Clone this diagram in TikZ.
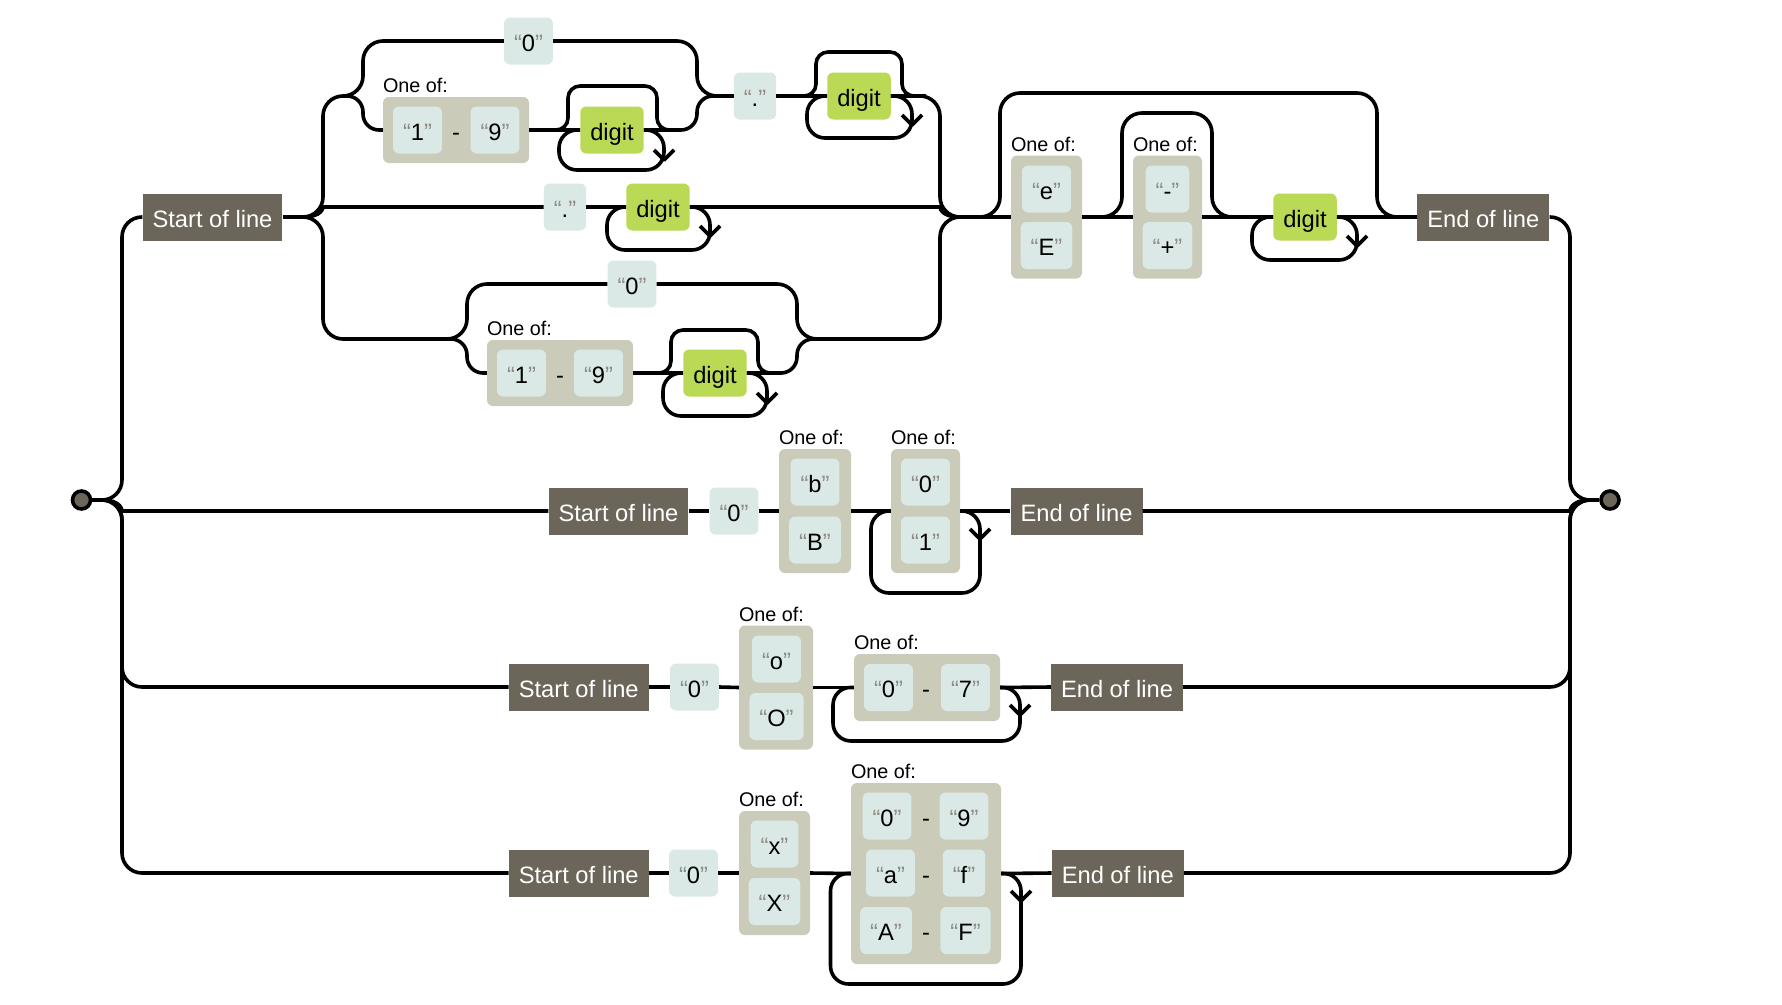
\documentclass[tikz,border=0pt]{standalone}
\usepackage{fontspec}
\setmainfont{Liberation Sans}
\usepackage{tikz}
\definecolor{anchorfill}{HTML}{6B6659}
\definecolor{litfill}{HTML}{DAE9E5}
\definecolor{setfill}{HTML}{CBCBBA}
\definecolor{escfill}{HTML}{BADA55}
\definecolor{quotegray}{HTML}{908C83}
\newcommand{\rrfont}{\fontsize{23.7}{28}\selectfont}
\newcommand{\rrlab}{\fontsize{19.8}{24}\selectfont}
\newcommand{\lit}[1]{{\color{quotegray}“}#1{\color{quotegray}”}}
\tikzstyle{anchorbox} = [fill=anchorfill, text=white, minimum height=47pt, inner xsep=10pt, inner ysep=0pt, text height=20pt, text depth=0pt]
\tikzstyle{litbox} = [fill=litfill, rounded corners=6pt, minimum height=47pt, inner xsep=10pt, inner ysep=0pt, text height=20pt, text depth=0pt]
\tikzstyle{escbox} = [litbox, fill=escfill]
\tikzstyle{setbox} = [fill=setfill, rounded corners=6pt, inner sep=0pt]
\tikzstyle{dashmark} = [inner sep=0pt, text height=20pt, text depth=0pt]
\tikzstyle{oneof} = [anchor=base west, inner sep=0pt, font=\rrlab]
\tikzstyle{rail} = [draw, line width=3.6pt, rounded corners=20pt]
\tikzstyle{tip} = [draw, line width=3.6pt, line join=round]
\tikzstyle{endpoint} = [draw, circle, fill=anchorfill, line width=3.6pt, minimum size=18pt, inner sep=0pt]
\tikzstyle{junction} = [coordinate]

\begin{document}
\begin{tikzpicture}[x=1pt, y=-1pt, font=\rrfont]
	\fill [white] (0,0) rectangle (1782,1004);
	\useasboundingbox (0,0) rectangle (1782,1004);

	\node [endpoint] (begin) at (81.5,500) {};
	\node [endpoint] (finish) at (1610,500) {};
	\node [junction] (split) at (102,500) {};
	\node [junction] (merge) at (1590,500) {};

	\node [anchorbox] (start1) at (212.5,217) {Start of line};
	\node [junction] (joint1) at (303,217) {};
	\node [junction] (joint2) at (343,96) {};
	\node [litbox] (zero1) at (528.5,41) {\lit{0}};
	\node [setbox, minimum width=146pt, minimum height=66pt] (range1) at (456,130) {};
	\node [oneof] (range1lab) at ([yshift=4pt]range1.north west) {One of:};
	\node [litbox] (range1lo) at (417.5,130) {\lit{1}};
	\node [dashmark] (range1dash) at (456,130) {-};
	\node [litbox] (range1hi) at (495,130) {\lit{9}};
	\node [escbox] (digit1) at (612,130) {digit};
	\node [junction] (joint3) at (717,96) {};
	\node [litbox] (dot1) at (755,96) {\lit{.}};
	\node [escbox] (digit2) at (859,96) {digit};
	\node [litbox] (dot2) at (565,207) {\lit{.}};
	\node [escbox] (digit3) at (658,207) {digit};
	\node [junction] (joint4) at (447,339) {};
	\node [litbox] (zero2) at (632,284) {\lit{0}};
	\node [setbox, minimum width=146pt, minimum height=66pt] (range2) at (560,373) {};
	\node [oneof] (range2lab) at ([yshift=4pt]range2.north west) {One of:};
	\node [litbox] (range2lo) at (521.5,373) {\lit{1}};
	\node [dashmark] (range2dash) at (560,373) {-};
	\node [litbox] (range2hi) at (598.5,373) {\lit{9}};
	\node [escbox] (digit4) at (715,373) {digit};
	\node [junction] (joint5) at (817,339) {};
	\node [junction] (joint6) at (960,217) {};
	\node [setbox, minimum width=71pt, minimum height=123pt] (expo) at (1046.5,217) {};
	\node [oneof] (expolab) at ([yshift=4pt]expo.north west) {One of:};
	\node [litbox] (expolow) at (1046.5,189) {\lit{e}};
	\node [litbox] (expoup) at (1046.5,245.5) {\lit{E}};
	\node [setbox, minimum width=69pt, minimum height=123pt] (sign) at (1167.5,217) {};
	\node [oneof] (signlab) at ([yshift=4pt]sign.north west) {One of:};
	\node [litbox] (minus) at (1167.5,189) {\lit{-}};
	\node [litbox] (plus) at (1167.5,245.5) {\lit{+}};
	\node [escbox] (digit5) at (1305,217) {digit};
	\node [anchorbox] (end1) at (1483.3,217) {End of line};

	\node [anchorbox] (start2) at (618.5,511) {Start of line};
	\node [litbox] (zero3) at (734,511) {\lit{0}};
	\node [setbox, minimum width=72pt, minimum height=124pt] (bset) at (815,511) {};
	\node [oneof] (bsetlab) at ([yshift=4pt]bset.north west) {One of:};
	\node [litbox] (blow) at (815,482) {\lit{b}};
	\node [litbox] (bup) at (815,540) {\lit{B}};
	\node [setbox, minimum width=69pt, minimum height=124pt] (bits) at (925.5,511) {};
	\node [oneof] (bitslab) at ([yshift=4pt]bits.north west) {One of:};
	\node [litbox] (bit0) at (925.5,482) {\lit{0}};
	\node [litbox] (bit1) at (925.5,540) {\lit{1}};
	\node [anchorbox] (end2) at (1076.5,511) {End of line};

	\node [anchorbox] (start3) at (578.75,687) {Start of line};
	\node [litbox] (zero4) at (694.5,687) {\lit{0}};
	\node [setbox, minimum width=74pt, minimum height=124pt] (oset) at (776,687.5) {};
	\node [oneof] (osetlab) at ([yshift=4pt]oset.north west) {One of:};
	\node [litbox] (olow) at (776.5,659) {\lit{o}};
	\node [litbox] (oup) at (776.5,716.5) {\lit{O}};
	\node [setbox, minimum width=146pt, minimum height=67pt] (octal) at (927,687.5) {};
	\node [oneof] (octallab) at ([yshift=4pt]octal.north west) {One of:};
	\node [litbox] (octallo) at (888.5,687.5) {\lit{0}};
	\node [dashmark] (octaldash) at (926,687.5) {-};
	\node [litbox] (octalhi) at (965.5,687.5) {\lit{7}};
	\node [anchorbox] (end3) at (1117,687) {End of line};

	\node [anchorbox] (start4) at (578.75,873) {Start of line};
	\node [litbox] (zero5) at (693.5,873) {\lit{0}};
	\node [setbox, minimum width=71pt, minimum height=124pt] (xset) at (774.5,873) {};
	\node [oneof] (xsetlab) at ([yshift=4pt]xset.north west) {One of:};
	\node [litbox] (xlow) at (774.5,844) {\lit{x}};
	\node [litbox] (xup) at (774.5,901.5) {\lit{X}};
	\node [setbox, minimum width=150pt, minimum height=181pt] (hex) at (926,873.5) {};
	\node [oneof] (hexlab) at ([yshift=4pt]hex.north west) {One of:};
	\node [litbox] (hexalo) at (887,816) {\lit{0}};
	\node [dashmark] (hexadash) at (926,816) {-};
	\node [litbox] (hexahi) at (964,816) {\lit{9}};
	\node [litbox] (hexblo) at (890.5,873) {\lit{a}};
	\node [dashmark] (hexbdash) at (926,873) {-};
	\node [litbox] (hexbhi) at (964,873) {\lit{f}};
	\node [litbox] (hexclo) at (886,930.5) {\lit{A}};
	\node [dashmark] (hexcdash) at (926,930.5) {-};
	\node [litbox] (hexchi) at (965.5,930.5) {\lit{F}};
	\node [anchorbox] (end4) at (1117.75,873) {End of line};

	\draw [rail] (begin) -- (split);
	\draw [rail] (split) -- (122,500) -- (122,217) -- (start1.west);
	\draw [rail] (split) .. controls (122,500) and (122,511) .. (142,511) -- (start2.west);
	\draw [rail] (split) -- (122,500) -- (122,687) -- (start3.west);
	\draw [rail] (split) -- (122,500) -- (122,873) -- (start4.west);
	\draw [rail] (end1.east) -- (1570,217) -- (1570,500) -- (merge);
	\draw [rail] (end2.east) -- (1550,511) .. controls (1570,511) and (1570,500) .. (merge);
	\draw [rail] (end3.east) -- (1570,687) -- (1570,500) -- (merge);
	\draw [rail] (end4.east) -- (1570,873) -- (1570,500) -- (merge);
	\draw [rail] (merge) -- (finish);

	\draw [rail] (start1.east) -- (joint1);
	\draw [rail] (joint1) -- (323,217) -- (323,96) -- (363,96) -- (363,41) -- (zero1.west);
	\draw [rail, rounded corners=16pt] (joint2) -- (363,96) -- (363,130) -- (range1.west);
	\draw [rail] (zero1.east) -- (697,41) -- (697,96) -- (joint3);
	\draw [rail] (range1.east) -- (digit1.west);
	\draw [rail, rounded corners=12pt] (range1.east) -- (568,130) -- (568,86) -- (657,86) -- (657,130) -- (681,130);
	\draw [rail, rounded corners=16pt] (digit1.east) -- (697,130) -- (697,96) -- (joint3);
	\draw [rail, rounded corners=18pt] (digit1.east) -- (664,130) -- (664,170) -- (559,170) -- (559,130) -- (digit1.west);
	\draw [tip] (654,150) -- (664,160) -- (674,150);
	\draw [rail] (joint3) -- (dot1.west);
	\draw [rail] (dot1.east) -- (digit2.west);
	\draw [rail, rounded corners=12pt] (dot1.east) -- (816,96) -- (816,52) -- (902,52) -- (902,96) -- (926,96);
	\draw [rail] (digit2.east) -- (940,96) -- (940,217) -- (joint6);
	\draw [rail, rounded corners=18pt] (digit2.east) -- (912,96) -- (912,138) -- (807,138) -- (807,96) -- (digit2.west);
	\draw [tip] (902,115) -- (912,125) -- (922,115);

	\draw [rail] (joint1) .. controls (323,217) and (323,207) .. (343,207) -- (dot2.west);
	\draw [rail] (dot2.east) -- (digit3.west);
	\draw [rail] (digit3.east) -- (920,207) .. controls (940,207) and (940,217) .. (joint6);
	\draw [rail, rounded corners=18pt] (digit3.east) -- (710,207) -- (710,250) -- (607,250) -- (607,207) -- (digit3.west);
	\draw [tip] (700,226) -- (710,236) -- (720,226);

	\draw [rail] (joint1) -- (323,217) -- (323,339) -- (joint4);
	\draw [rail] (joint4) -- (467,339) -- (467,284) -- (zero2.west);
	\draw [rail, rounded corners=16pt] (joint4) -- (467,339) -- (467,373) -- (range2.west);
	\draw [rail] (zero2.east) -- (797,284) -- (797,339) -- (joint5);
	\draw [rail] (range2.east) -- (digit4.west);
	\draw [rail, rounded corners=12pt] (range2.east) -- (671,373) -- (671,330) -- (758,330) -- (758,373) -- (782,373);
	\draw [rail, rounded corners=16pt] (digit4.east) -- (797,373) -- (797,339) -- (joint5);
	\draw [rail, rounded corners=18pt] (digit4.east) -- (767,373) -- (767,416) -- (663,416) -- (663,373) -- (digit4.west);
	\draw [tip] (757,393) -- (767,403) -- (777,393);
	\draw [rail] (joint5) -- (940,339) -- (940,217) -- (joint6);

	\draw [rail] (joint6) -- (expo.west);
	\draw [rail] (joint6) -- (1000,217) -- (1000,93) -- (1377,93) -- (1377,217) -- (end1.west);
	\draw [rail] (expo.east) -- (sign.west);
	\draw [rail] (expo.east) -- (1122,217) -- (1122,113) -- (1212,113) -- (1212,217) -- (digit5.west);
	\draw [rail] (sign.east) -- (digit5.west);
	\draw [rail] (digit5.east) -- (end1.west);
	\draw [rail, rounded corners=18pt] (digit5.east) -- (1357,217) -- (1357,260) -- (1252,260) -- (1252,217) -- (digit5.west);
	\draw [tip] (1347,236) -- (1357,246) -- (1367,236);

	\draw [rail] (start2.east) -- (zero3.west);
	\draw [rail] (zero3.east) -- (bset.west);
	\draw [rail] (bset.east) -- (bits.west);
	\draw [rail] (bits.east) -- (end2.west);
	\draw [rail, rounded corners=18pt] (bits.east) -- (980,511) -- (980,593) -- (871,593) -- (871,511) -- (bits.west);
	\draw [tip] (970,529) -- (980,539) -- (990,529);

	\draw [rail] (start3.east) -- (zero4.west);
	\draw [rail] (zero4.east) -- (oset.west);
	\draw [rail] (oset.east) -- (octal.west);
	\draw [rail] (octal.east) -- (end3.west);
	\draw [rail, rounded corners=18pt] (octal.east) -- (1020,687) -- (1020,741) -- (833,741) -- (833,687) -- (octal.west);
	\draw [rail] (end3.east) -- (1550,687);
	\draw [tip] (1010,705) -- (1020,715) -- (1030,705);

	\draw [rail] (start4.east) -- (zero5.west);
	\draw [rail] (zero5.east) -- (xset.west);
	\draw [rail] (xset.east) -- (hex.west);
	\draw [rail] (hex.east) -- (end4.west);
	\draw [rail, rounded corners=18pt] (hex.east) -- (1021,873) -- (1021,984) -- (830.5,984) -- (830.5,873) -- (hex.west);
	\draw [tip] (1011,891) -- (1021,901) -- (1031,891);
\end{tikzpicture}
\end{document}
